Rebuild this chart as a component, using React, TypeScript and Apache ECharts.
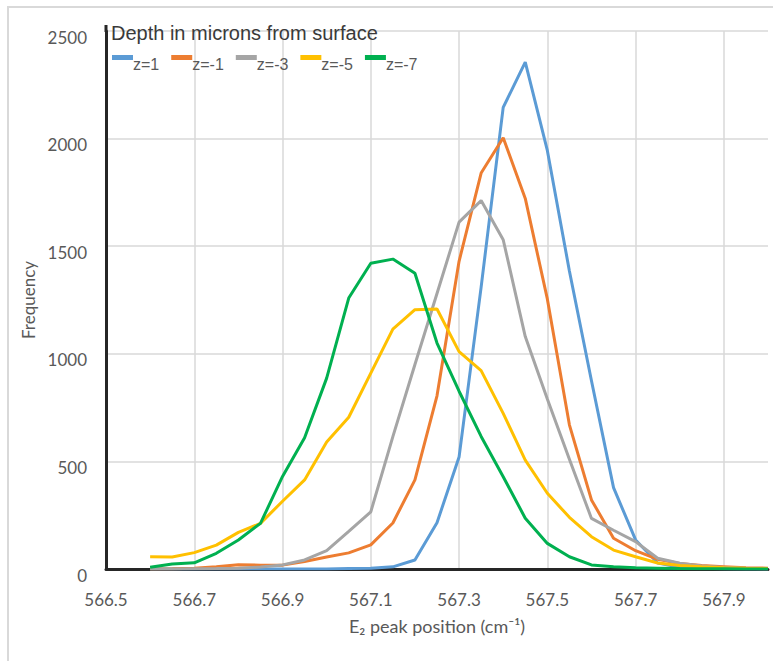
import { useEffect, useRef } from "react";
import * as echarts from "echarts";

// E2 peak position (cm^-1), sampled every 0.05
const peakPositions = [
  566.6, 566.65, 566.7, 566.75, 566.8, 566.85, 566.9, 566.95, 567.0, 567.05,
  567.1, 567.15, 567.2, 567.25, 567.3, 567.35, 567.4, 567.45, 567.5, 567.55,
  567.6, 567.65, 567.7, 567.75, 567.8, 567.85, 567.9, 567.95, 568.0,
];

const depthLabels = ["z=1", "z=-1", "z=-3", "z=-5", "z=-7"];

const freqZ1 = [
  0, 0, 0, 0, 0, 0, 0, 0, 0, 2,
  3, 10, 42, 215, 520, 1310, 2145, 2355, 1945, 1385,
  875, 378, 135, 28, 8, 3, 1, 0, 0,
];
const freqZm1 = [
  0, 1, 3, 10, 20, 18, 18, 35, 56, 75,
  112, 214, 414, 805, 1430, 1840, 2004, 1722, 1255, 670,
  321, 143, 85, 45, 26, 16, 11, 6, 4,
];
const freqZm3 = [
  0, 0, 1, 2, 4, 9, 19, 42, 85, 175,
  266, 615, 950, 1280, 1612, 1712, 1530, 1080, 790, 510,
  235, 180, 127, 50, 27, 14, 7, 3, 1,
];
const freqZm5 = [
  57, 56, 76, 111, 170, 212, 315, 414, 590, 705,
  910, 1115, 1205, 1208, 1010, 922, 723, 506, 352, 240,
  150, 88, 57, 28, 16, 10, 6, 3, 2,
];
const freqZm7 = [
  8, 23, 29, 73, 135, 212, 430, 610, 887, 1259,
  1421, 1440, 1374, 1050, 826, 616, 429, 236, 119, 57,
  19, 11, 6, 4, 2, 1, 1, 0, 0,
];

const depthSeries = [freqZ1, freqZm1, freqZm3, freqZm5, freqZm7];
const depthColors = ["#5B9BD5", "#ED7D31", "#A5A5A5", "#FFC000", "#00B050"];

const labelColor = "#595959";
const gridColor = "#d9d9d9";
const axisColor = "#262626";

// Legend swatch: a 21x5 bar sitting at the top of a 21x18 box, so the
// label (centred on the box) hangs a little below the bar.
const legendSwatch = "path://M0,0L21,0L21,5L0,5Z M0,18L0.01,18L0.01,18.01Z";

export default function App() {
  const ref = useRef<HTMLDivElement>(null);

  useEffect(() => {
    if (!ref.current) return;
    const chart = echarts.init(ref.current, null, { renderer: "svg" });

    chart.setOption({
      animation: false,
      backgroundColor: "#ffffff",
      title: {
        text: "Depth in microns from surface",
        left: 111,
        top: 23,
        padding: 0,
        textStyle: {
          fontFamily: "Liberation Sans",
          fontSize: 20,
          fontWeight: "normal",
          color: "#3a3a3a",
        },
      },
      legend: {
        left: 112,
        top: 55,
        padding: 0,
        icon: legendSwatch,
        itemWidth: 21,
        itemHeight: 18,
        itemGap: 12,
        selectedMode: false,
        data: depthLabels,
        textStyle: {
          fontFamily: "Liberation Sans",
          fontSize: 16,
          color: labelColor,
          padding: [0, 0, 0, -5],
        },
      },
      grid: {
        left: 106,
        top: 31,
        width: 662,
        height: 538,
        containLabel: false,
      },
      xAxis: {
        type: "value",
        min: 566.5,
        max: 568.0,
        interval: 0.2,
        name: "E\u2082 peak position (cm\u207B\u00B9)",
        nameLocation: "middle",
        nameGap: 48,
        nameTextStyle: {
          fontFamily: "Lato",
          fontSize: 18,
          color: labelColor,
        },
        axisLine: { show: true, lineStyle: { color: axisColor, width: 3 } },
        axisTick: { show: false },
        axisLabel: {
          margin: 22,
          fontFamily: "Lato",
          fontSize: 17,
          color: labelColor,
          showMaxLabel: false,
          formatter: (v: number) => v.toFixed(1),
        },
        splitLine: {
          show: true,
          showMinLine: false,
          showMaxLine: false,
          lineStyle: { color: gridColor, width: 1.5 },
        },
      },
      yAxis: {
        type: "value",
        min: 0,
        max: 2500,
        interval: 500,
        name: "Frequency",
        nameLocation: "middle",
        nameGap: 68,
        nameTextStyle: {
          fontFamily: "Lato",
          fontSize: 17,
          color: labelColor,
        },
        axisLine: { show: true, lineStyle: { color: axisColor, width: 3 } },
        axisTick: { show: false },
        axisLabel: {
          margin: 19,
          fontFamily: "Lato",
          fontSize: 17,
          color: labelColor,
          verticalAlign: "top",
          lineHeight: 12,
          formatter: (v: number) => String(v),
        },
        splitLine: {
          show: true,
          lineStyle: { color: gridColor, width: 1.5 },
        },
      },
      graphic: [
        {
          type: "rect",
          silent: true,
          z: -1,
          shape: { x: 8, y: 7, width: 900, height: 900 },
          style: { fill: "none", stroke: gridColor, lineWidth: 2 },
        },
        {
          // the vertical axis rule runs a few pixels past the top gridline
          type: "line",
          silent: true,
          shape: { x1: 106, y1: 25, x2: 106, y2: 32 },
          style: { stroke: axisColor, lineWidth: 3 },
        },
      ],
      series: depthSeries.map((values, i) => ({
        name: depthLabels[i],
        type: "line",
        symbol: "none",
        showSymbol: false,
        smooth: false,
        color: depthColors[i],
        lineStyle: { color: depthColors[i], width: 3 },
        itemStyle: { color: depthColors[i] },
        data: peakPositions.map((x, j) => [x, values[j]]),
      })),
    });

    return () => chart.dispose();
  }, []);

  return (
    <div
      ref={ref}
      style={{
        position: "fixed",
        left: 0,
        top: 0,
        width: 773,
        height: 661,
        background: "#ffffff",
      }}
    />
  );
}
